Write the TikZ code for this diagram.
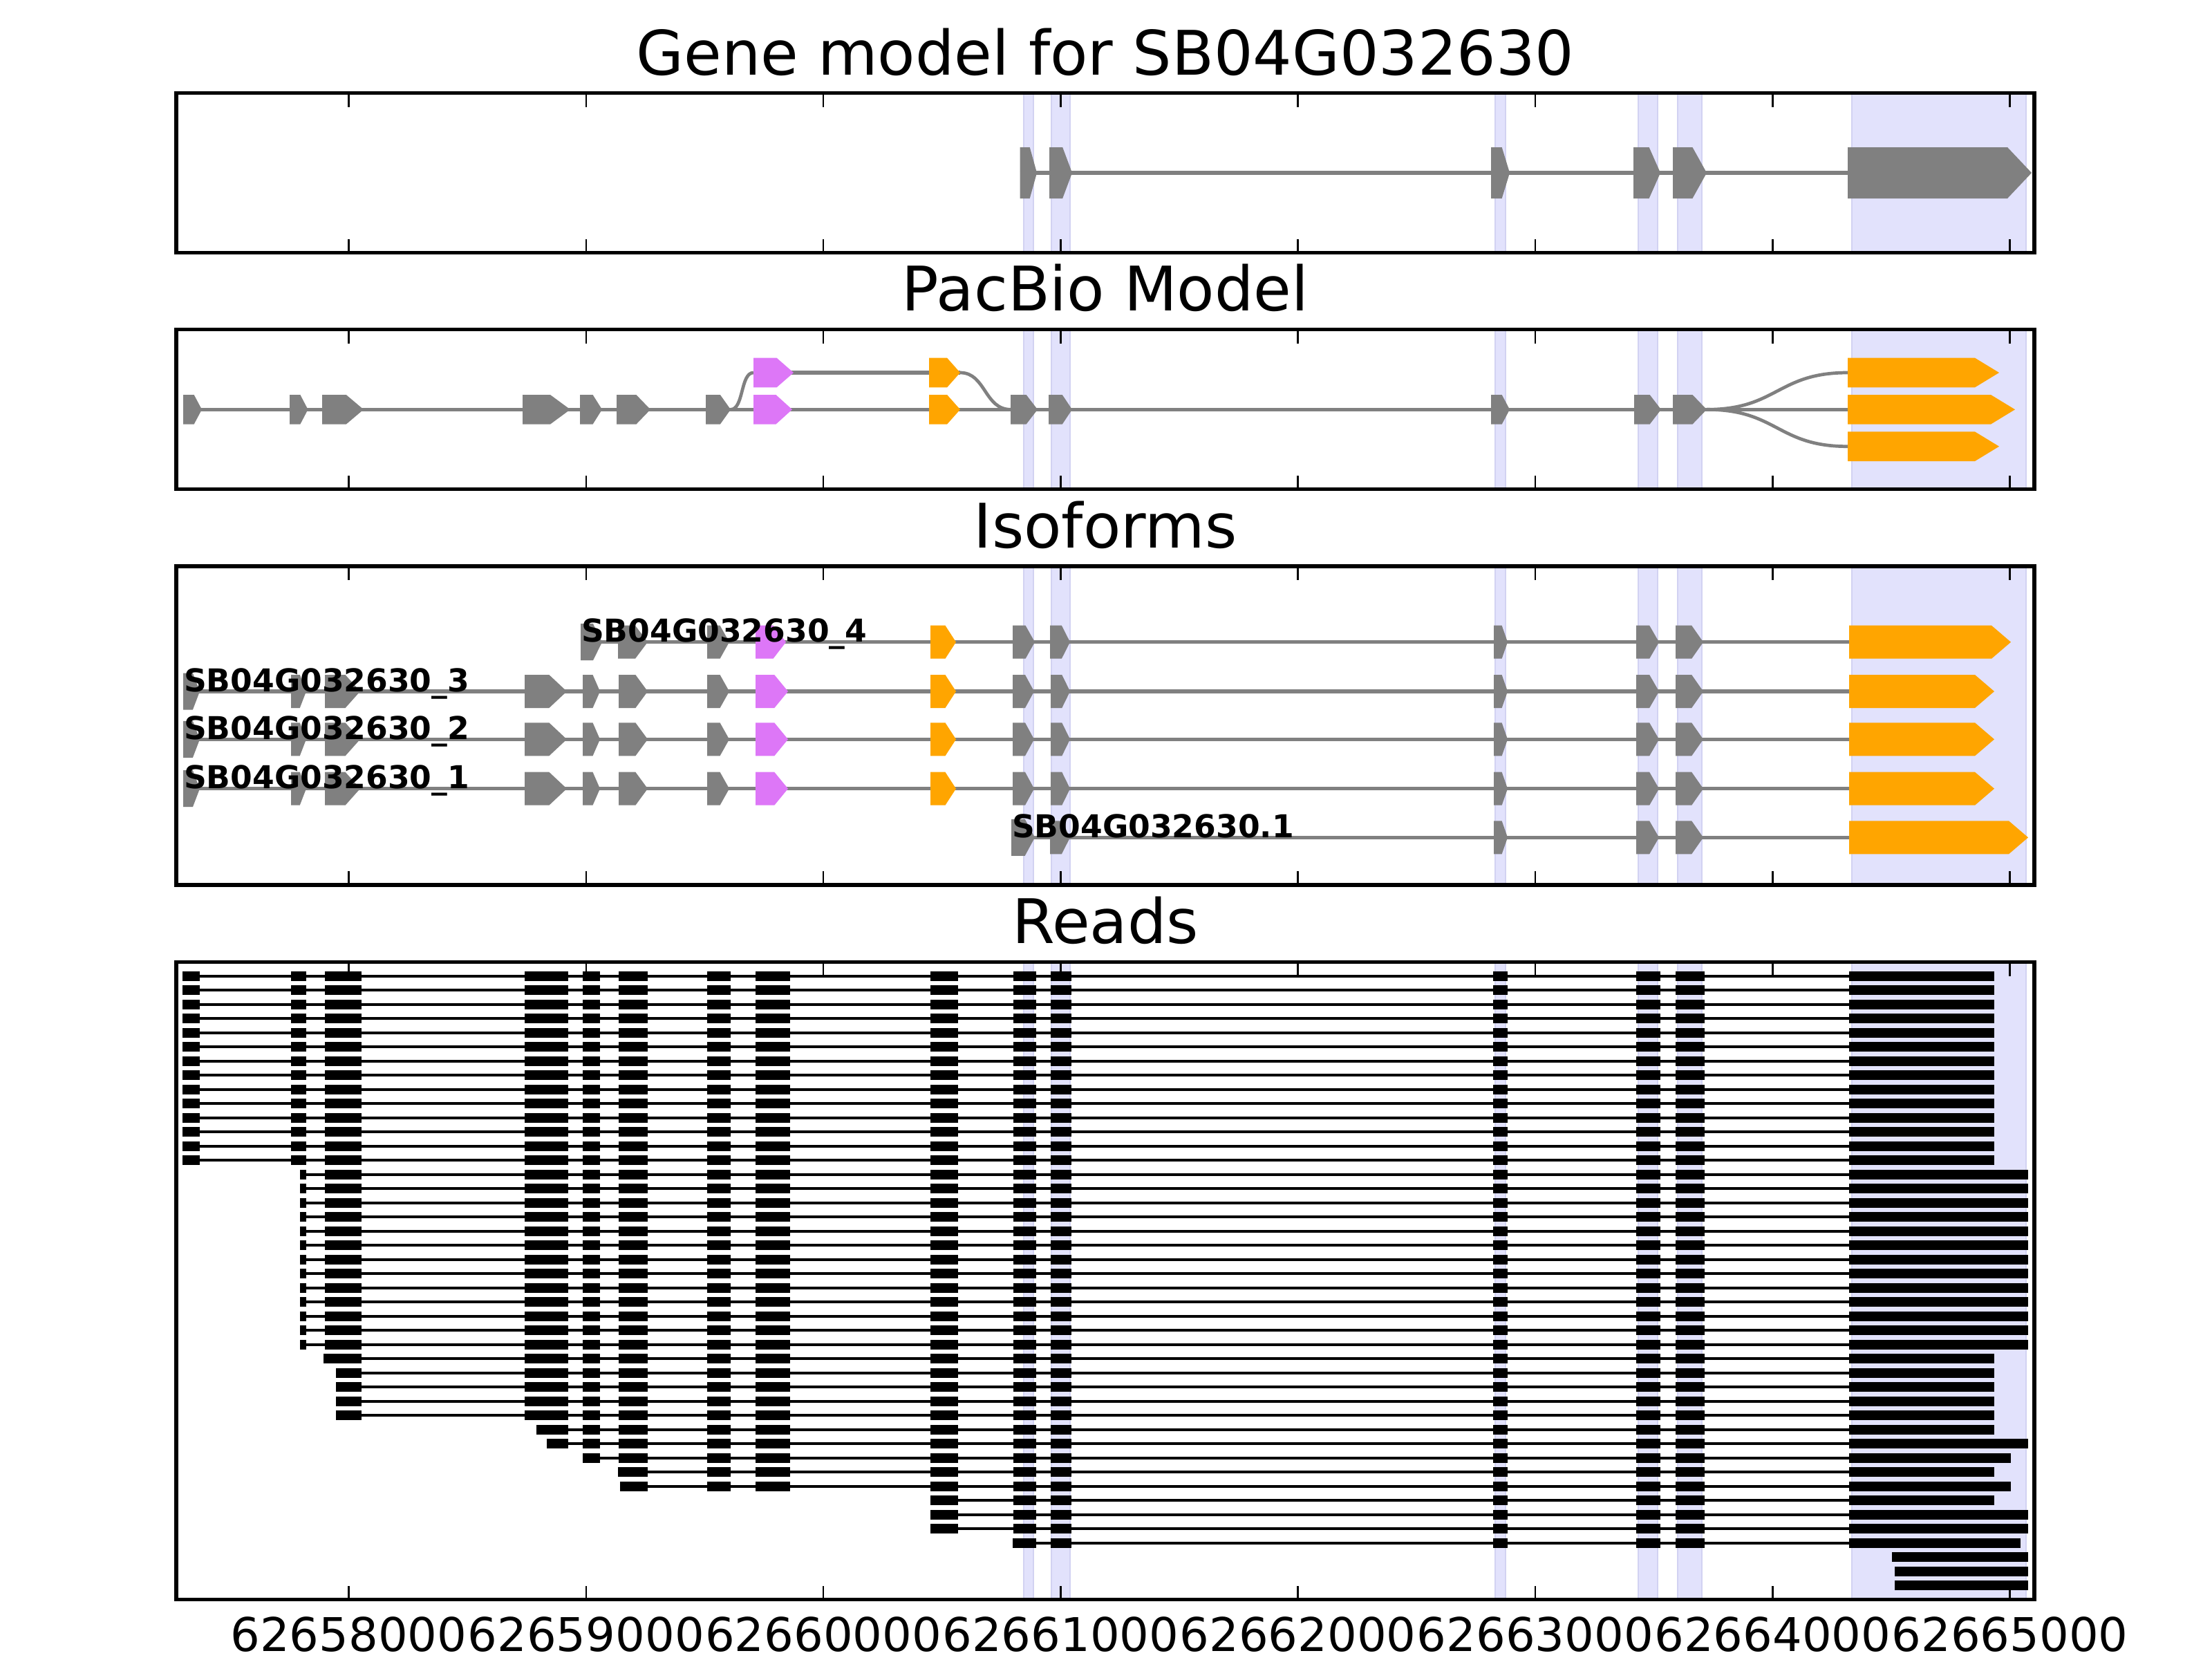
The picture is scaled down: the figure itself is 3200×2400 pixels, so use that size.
\documentclass[tikz,border=0pt]{standalone}
\usepackage{fontspec}
\setmainfont{DejaVu Sans}
\definecolor{exgray}{RGB}{128,128,128}
\definecolor{expink}{RGB}{221,119,247}
\definecolor{exorange}{RGB}{255,165,0}
\definecolor{bandfill}{RGB}{226,226,252}
\definecolor{bandedge}{RGB}{210,210,242}
\tikzset{
  bandsty/.style={fill=bandfill, draw=bandedge, line width=0.35pt},
  ticksty/.style={draw=black, line width=0.45pt},
  framesty/.style={draw=black, line width=0.95pt},
  intronsty/.style={draw=exgray, line width=0.95pt},
  curvesty/.style={draw=exgray, line width=0.85pt},
  rline/.style={draw=black, line width=0.8pt},
  titlesty/.style={font=\fontsize{16}{19}\selectfont, inner sep=0pt, anchor=base},
  ticklab/.style={font=\fontsize{12.1}{14}\selectfont, inner sep=0pt, anchor=base},
  isolab/.style={font=\fontsize{8.2}{10}\selectfont\bfseries, inner sep=0pt, anchor=base west},
}
% exon arrow: color, x0, x1, yc, half height, max head length
\newcommand{\gexon}[6]{%
  \pgfmathsetmacro{\gxhl}{min(0.42*(#3-#2),#6)}%
  \fill[#1] (#2,{#4-#5}) -- ({#3-\gxhl},{#4-#5}) -- (#3,#4) -- ({#3-\gxhl},{#4+#5}) -- (#2,{#4+#5}) -- cycle;}
\newcommand{\bandset}[2]{%
  \foreach \ba/\bb in {1480.6/1494.9,1521.4/1548,2163/2177.6,2370.4/2398,2426.5/2462,2678.6/2930.6}
    {\filldraw[bandsty] (\ba,#1) rectangle (\bb,#2);}}
\newcommand{\panelframe}[2]{%
  \foreach \k in {0,...,7}{%
    \draw[ticksty] ({504.5+343.3*\k},#1) -- ++(0,20);
    \draw[ticksty] ({504.5+343.3*\k},#2) -- ++(0,-20);}
  \draw[framesty] (255,#1) rectangle (2943,#2);}
% read row: index, start x, first exon index, end x
\newcommand{\readrow}[4]{%
  \pgfmathsetmacro{\ry}{1411.7+20.5*#1}%
  \draw[rline] (#2,\ry) -- (2675,\ry);
  \foreach \ra/\rb [count=\rn] in {264/289,421/443,470/523,759/822,843/868,895/937,1023/1057,1093/1143,1346/1386,1466/1499,1520/1550,2160/2181,2367/2402,2424/2466}{%
    \ifnum\rn>#3 \fill[black] (\ra,{\ry-7}) rectangle (\rb,{\ry+7}); \fi
    \ifnum\rn=#3 \fill[black] (#2,{\ry-7}) rectangle (\rb,{\ry+7}); \fi}
  \fill[black] (2675,{\ry-7}) rectangle (#4,{\ry+7});}
\begin{document}
\begin{tikzpicture}[x=0.18pt,y=-0.18pt]
\useasboundingbox (0,0) rectangle (3200,2400);

% ---------- titles ----------
\node[titlesty] (title1) at (1599,108) {Gene model for SB04G032630};
\node[titlesty] (title2) at (1599,449.5) {PacBio Model};
\node[titlesty] (title3) at (1599,792) {Isoforms};
\node[titlesty] (title4) at (1599,1364.6) {Reads};

% ---------- panel 1: gene model ----------
\bandset{134.5}{365.7}
\draw[intronsty] (1475.5,250) -- (2673,250);
\foreach \xa/\xb in {1475.5/1500,1518/1551,2157/2184,2363/2402,2420/2469,2673/2939}
  {\gexon{exgray}{\xa}{\xb}{250}{37}{35}}
\panelframe{134.5}{365.7}

% ---------- panel 2: PacBio model ----------
\bandset{476.5}{707.7}
\draw[intronsty] (265,592.3) -- (2673,592.3);
\draw[intronsty] (1090,539) -- (1389,539);
\draw[curvesty] (1057,592.3) .. controls (1076,592.3) and (1071,539) .. (1090,539);
\draw[curvesty] (1389,539) .. controls (1426,539) and (1424,592.3) .. (1462,592.3);
\draw[curvesty] (2469,592.3) .. controls (2571,592.3) and (2571,539) .. (2673,539);
\draw[curvesty] (2469,592.3) .. controls (2571,592.3) and (2571,645.7) .. (2673,645.7);
\foreach \cc/\xa/\xb in {exgray/265/292,exgray/419/445.5,exgray/466/526,exgray/756/825,exgray/839/871,exgray/892/941,exgray/1021/1057,expink/1090/1146,exorange/1344/1389,exgray/1462/1501,exgray/1517/1551,exgray/2157/2184,exgray/2364/2403,exgray/2420/2469,exorange/2673/2915}
  {\gexon{\cc}{\xa}{\xb}{592.3}{21.3}{35}}
\foreach \cc/\xa/\xb in {expink/1090/1148,exorange/1344/1389,exorange/2673/2892}
  {\gexon{\cc}{\xa}{\xb}{539}{21.3}{35}}
\gexon{exorange}{2673}{2892}{645.7}{21.3}{35}
\panelframe{476.5}{707.7}

% ---------- panel 3: isoforms ----------
\bandset{819}{1280}
% row _4
\draw[intronsty] (840,928.7) -- (2675,928.7);
\gexon{exgray}{840}{871}{928.7}{26.5}{28}
\foreach \cc/\xa/\xb in {exgray/894/937,exgray/1023/1055,expink/1093/1137,exorange/1346/1383,exgray/1465/1497,exgray/1519/1548,exgray/2161/2181,exgray/2367/2400,exgray/2424/2464,exorange/2675/2909}
  {\gexon{\cc}{\xa}{\xb}{928.7}{24}{28}}
% rows _3, _2, _1
\foreach \yy in {1000,1069.3,1140.7}{%
  \draw[intronsty] (265,\yy) -- (2675,\yy);
  \gexon{exgray}{265}{289}{\yy}{26.5}{28}
  \foreach \cc/\xa/\xb in {exgray/421/443,exgray/470/521,exgray/759/820,exgray/843/868,exgray/895/937,exgray/1023/1055,expink/1093/1140,exorange/1346/1383,exgray/1465/1496,exgray/1520/1548,exgray/2161/2181,exgray/2367/2400,exgray/2424/2464,exorange/2675/2885}
    {\gexon{\cc}{\xa}{\xb}{\yy}{24}{28}}}
% row .1
\draw[intronsty] (1463,1211.3) -- (2675,1211.3);
\gexon{exgray}{1463}{1497}{1211.3}{26.5}{28}
\foreach \cc/\xa/\xb in {exgray/1519/1548,exgray/2161/2181,exgray/2367/2400,exgray/2424/2464,exorange/2675/2934}
  {\gexon{\cc}{\xa}{\xb}{1211.3}{24}{28}}
\node[isolab] (iso4) at (840,928.7) {SB04G032630\_4};
\node[isolab] (iso3) at (265,1000) {SB04G032630\_3};
\node[isolab] (iso2) at (265,1069.3) {SB04G032630\_2};
\node[isolab] (iso1) at (265,1140.7) {SB04G032630\_1};
\node[isolab] (iso0) at (1463,1211.3) {SB04G032630.1};
\panelframe{819}{1280}

% ---------- panel 4: reads ----------
\bandset{1391.6}{2313.6}
\foreach \r in {0,...,13}{\readrow{\r}{264}{1}{2885}}
\foreach \r in {14,...,26}{\readrow{\r}{434}{2}{2934}}
\readrow{27}{468}{3}{2885}
\foreach \r in {28,...,31}{\readrow{\r}{486}{3}{2885}}
\readrow{32}{776}{4}{2885}
\readrow{33}{791}{4}{2934}
\readrow{34}{843}{5}{2909}
\readrow{35}{894}{6}{2885}
\readrow{36}{897}{6}{2909}
\readrow{37}{1346}{9}{2885}
\readrow{38}{1346}{9}{2934}
\readrow{39}{1346}{9}{2934}
\readrow{40}{1465}{10}{2923}
\fill[black] (2737,{1411.7+20.5*41-7}) rectangle (2934,{1411.7+20.5*41+7});
\fill[black] (2741,{1411.7+20.5*42-7}) rectangle (2934,{1411.7+20.5*42+7});
\fill[black] (2741,{1411.7+20.5*43-7}) rectangle (2934,{1411.7+20.5*43+7});
\panelframe{1391.6}{2313.6}

% ---------- x tick labels ----------
\foreach \k in {0,...,7}{%
  \pgfmathtruncatemacro{\lab}{8+\k}%
  \node[ticklab] (tl\k) at ({504.5+343.3*\k},2388) {\ifnum\lab<10 626\the\numexpr 5\relax\lab000\else 626\the\numexpr 6\relax\the\numexpr\lab-10\relax000\fi};}
\end{tikzpicture}
\end{document}
